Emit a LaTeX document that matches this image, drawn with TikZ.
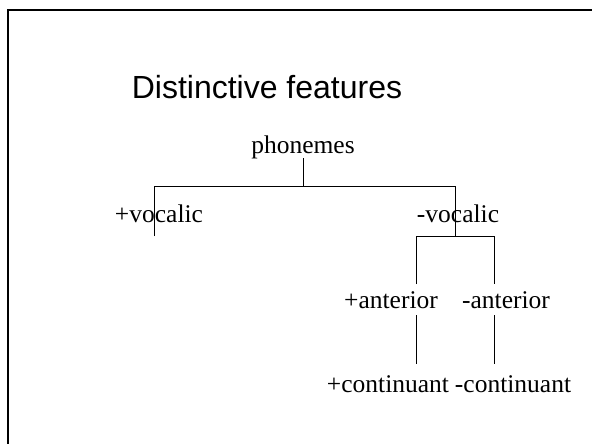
\documentclass[tikz,border=0pt]{standalone}
\usepackage{fontspec}
\setmainfont{Liberation Serif}
\newfontfamily\titlefont{Liberation Sans}
\begin{document}
\begin{tikzpicture}[x=1pt,y=1pt,
  lbl/.style={anchor=base,inner sep=0pt,font=\fontsize{25.5}{28}\selectfont},
  ttl/.style={anchor=base,inner sep=0pt,font=\titlefont\fontsize{32}{36}\selectfont},
  edge/.style={line width=1pt},
  frame/.style={line width=2pt}]
\useasboundingbox (0,0) rectangle (592,-444);
\fill[white] (0,0) rectangle (592,-444);
\draw[frame] (600,-10) -- (8,-10) -- (8,-452);
\node[ttl] (title) at (267,-99) {Distinctive features};
\node[lbl] (ph) at (303,-153) {phonemes};
\node[lbl] (pv) at (159,-222) {+vocalic};
\node[lbl] (mv) at (458,-222) {-vocalic};
\node[lbl] (pa) at (391,-308) {+anterior};
\node[lbl] (ma) at (506,-308) {-anterior};
\node[lbl] (pc) at (388,-392) {+continuant};
\node[lbl] (mc) at (513,-392) {-continuant};
\coordinate (phb) at (303,-158);
\coordinate (j1) at (303,-186);
\coordinate (l1) at (154,-186);
\coordinate (r1) at (455,-186);
\coordinate (l1b) at (154,-236);
\coordinate (r1b) at (455,-236);
\coordinate (l2) at (416,-236);
\coordinate (r2) at (494,-236);
\coordinate (l2b) at (416,-284);
\coordinate (r2b) at (494,-284);
\coordinate (l3) at (416,-315);
\coordinate (r3) at (494,-315);
\coordinate (l3b) at (416,-364);
\coordinate (r3b) at (494,-364);
\draw[edge] (phb) -- (j1);
\draw[edge] (l1b) -- (l1) -- (r1) -- (r1b);
\draw[edge] (l2b) -- (l2) -- (r2) -- (r2b);
\draw[edge] (l3) -- (l3b);
\draw[edge] (r3) -- (r3b);
\end{tikzpicture}
\end{document}
